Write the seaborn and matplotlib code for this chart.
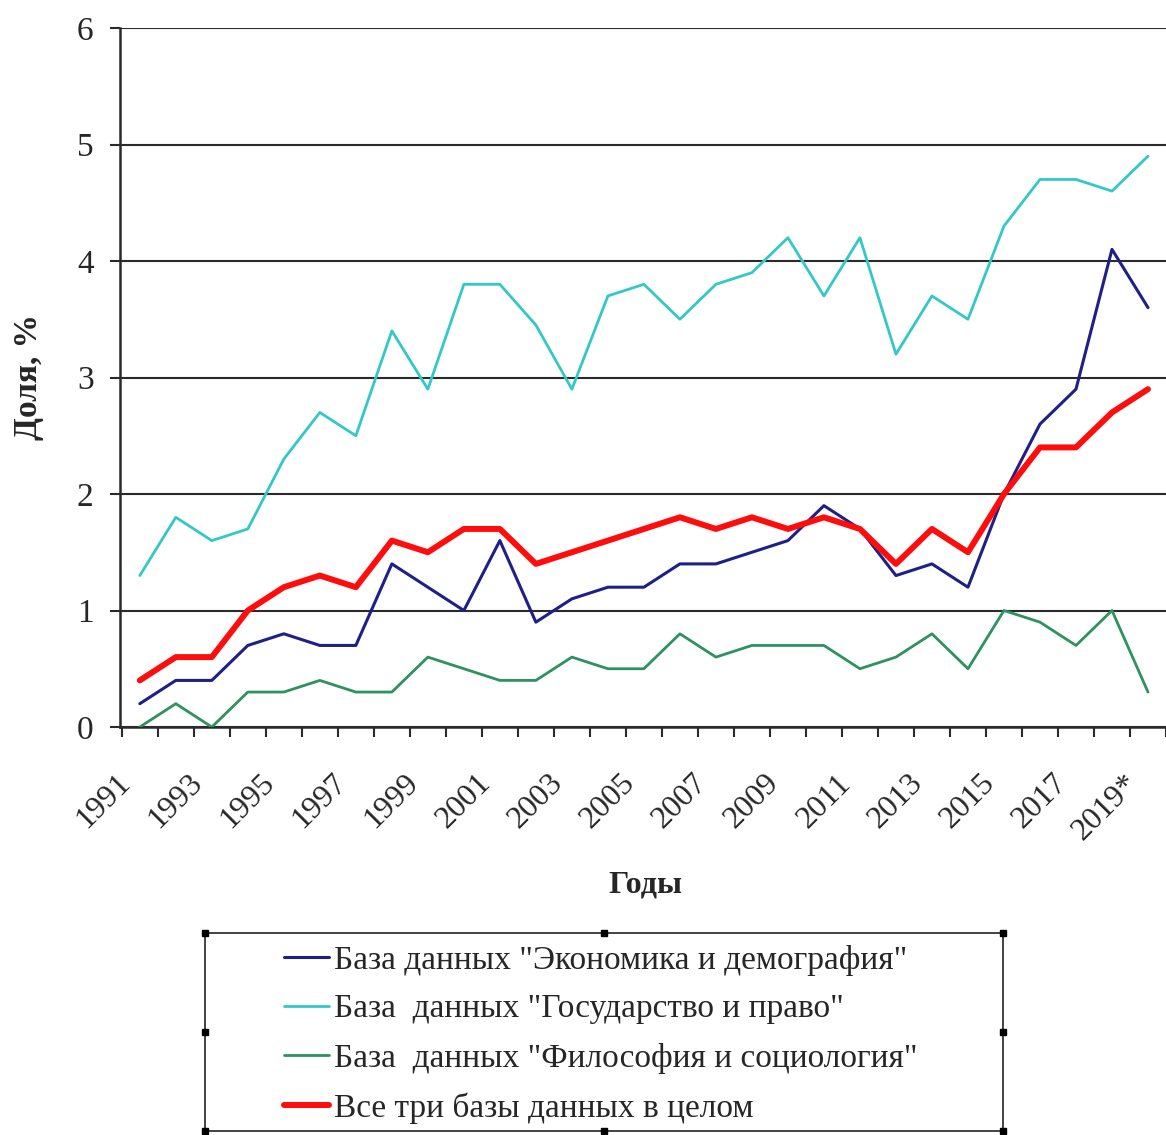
import matplotlib
matplotlib.use("Agg")
from matplotlib import pyplot as plt
from matplotlib.patches import Rectangle
import matplotlib.transforms as mtransforms
import pandas as pd
import seaborn as sns
import numpy as np

# Data (share, %)
years = list(range(1991, 2020))
tick_years = list(range(1991, 2020, 2))
tick_labels = [str(y) for y in tick_years[:-1]] + ['2019*']

econ = [0.2, 0.4, 0.4, 0.7, 0.8, 0.7, 0.7, 1.4, 1.2, 1.0,
        1.6, 0.9, 1.1, 1.2, 1.2, 1.4, 1.4, 1.5, 1.6, 1.9,
        1.7, 1.3, 1.4, 1.2, 2.0, 2.6, 2.9, 4.1, 3.6]
state = [1.3, 1.8, 1.6, 1.7, 2.3, 2.7, 2.5, 3.4, 2.9, 3.8,
         3.8, 3.45, 2.9, 3.7, 3.8, 3.5, 3.8, 3.9, 4.2, 3.7,
         4.2, 3.2, 3.7, 3.5, 4.3, 4.7, 4.7, 4.6, 4.9]
philo = [0.0, 0.2, 0.0, 0.3, 0.3, 0.4, 0.3, 0.3, 0.6, 0.5,
         0.4, 0.4, 0.6, 0.5, 0.5, 0.8, 0.6, 0.7, 0.7, 0.7,
         0.5, 0.6, 0.8, 0.5, 1.0, 0.9, 0.7, 1.0, 0.3]
total = [0.4, 0.6, 0.6, 1.0, 1.2, 1.3, 1.2, 1.6, 1.5, 1.7,
         1.7, 1.4, 1.5, 1.6, 1.7, 1.8, 1.7, 1.8, 1.7, 1.8,
         1.7, 1.4, 1.7, 1.5, 2.0, 2.4, 2.4, 2.7, 2.9]

series_names = [
    'База данных "Экономика и демография"',
    'База  данных "Государство и право"',
    'База  данных "Философия и социология"',
    'Все три базы данных в целом',
]
series_values = [econ, state, philo, total]
colors = ['#1f1f88', '#33c8c8', '#2e9160', '#ff0d0d']
widths = [2.2, 2.0, 2.0, 4.3]

sns.set_style('white')
plt.rcParams['font.family'] = ['Liberation Serif', 'DejaVu Serif']

W, H = 1166, 1135
fig = plt.figure(figsize=(W / 100, H / 100), dpi=100)
ax = fig.add_axes([120 / W, 1 - 727 / H, 1 - 120 / W, (727 - 28) / H])

for name, vals, col, lw in zip(series_names, series_values, colors, widths):
    df = pd.DataFrame({'year': years, 'value': vals})
    sns.lineplot(data=df, x='year', y='value', ax=ax, color=col,
                 linewidth=lw, label=name, zorder=3)

# Axis ranges: categories centered on years, chart cut at the right edge
ax.set_xlim(1991 - 0.55, 1991 + 28.34)
ax.set_ylim(0, 6)

# Horizontal grid lines like the Excel chart
ax.set_yticks(range(0, 7))
ax.grid(axis='y', color='#2a2a2a', linewidth=1.5, zorder=1)
ax.grid(axis='x', visible=False)
for side in ['top', 'right']:
    ax.spines[side].set_visible(False)
for side in ['left', 'bottom']:
    ax.spines[side].set_color('#2a2a2a')
    ax.spines[side].set_linewidth(1.8)

ax.tick_params(axis='y', direction='out', length=7, width=1.5, color='#2a2a2a',
               pad=12, labelsize=24, left=True)
ax.set_xticks(tick_years)
ax.set_xticklabels(tick_labels)
ax.set_xticks(np.arange(1990.5, 2020.5, 1.0), minor=True)
ax.tick_params(axis='x', which='major', length=0, pad=30, labelsize=23)
ax.tick_params(axis='x', which='minor', direction='out', length=7, width=1.5,
               color='#2a2a2a', bottom=True)
shift = mtransforms.ScaledTranslation(-24 / 100, 0, fig.dpi_scale_trans)
for lab in ax.get_xticklabels():
    lab.set_rotation(45)
    lab.set_ha('right')
    lab.set_va('top')
    lab.set_rotation_mode('anchor')
    lab.set_transform(lab.get_transform() + shift)

ax.set_xlabel('Годы', fontsize=23, fontweight='bold')
ax.xaxis.set_label_coords(0.502, -0.205)
ax.set_ylabel('Доля, %', fontsize=24, fontweight='bold')
ax.yaxis.set_label_coords(-0.073, 0.5)

# Legend below the chart with a separate box around it
ax.get_legend().remove()
handles, labels = ax.get_legend_handles_labels()
leg = fig.legend(handles, labels, loc='center', bbox_to_anchor=(601 / W, 1 - 1034 / H),
                 frameon=False, fontsize=24, handlelength=1.35, handletextpad=0.15,
                 labelspacing=0.55, borderpad=0.25)

fig.canvas.draw()
bb = leg.get_window_extent().transformed(fig.transFigure.inverted())
x0, x1 = bb.x0 - 71 / W, bb.x1 + 77 / W
y0, y1 = 1 - 1131 / H, bb.y1 + 3 / H
fig.add_artist(Rectangle((x0, y0), x1 - x0, y1 - y0, transform=fig.transFigure,
                         fill=False, edgecolor='#222222', linewidth=1.2))
# small selection handles on the box, as in the source image
sw, sh = 6 / W, 6 / H
xm, ym = (x0 + x1) / 2, (y0 + y1) / 2
for hx, hy in [(x0, y0), (xm, y0), (x1, y0), (x0, ym), (x1, ym),
               (x0, y1), (xm, y1), (x1, y1)]:
    fig.add_artist(Rectangle((hx - sw / 2, hy - sh / 2), sw, sh,
                             transform=fig.transFigure, color='black'))

fig.savefig('out.png', dpi=100)
